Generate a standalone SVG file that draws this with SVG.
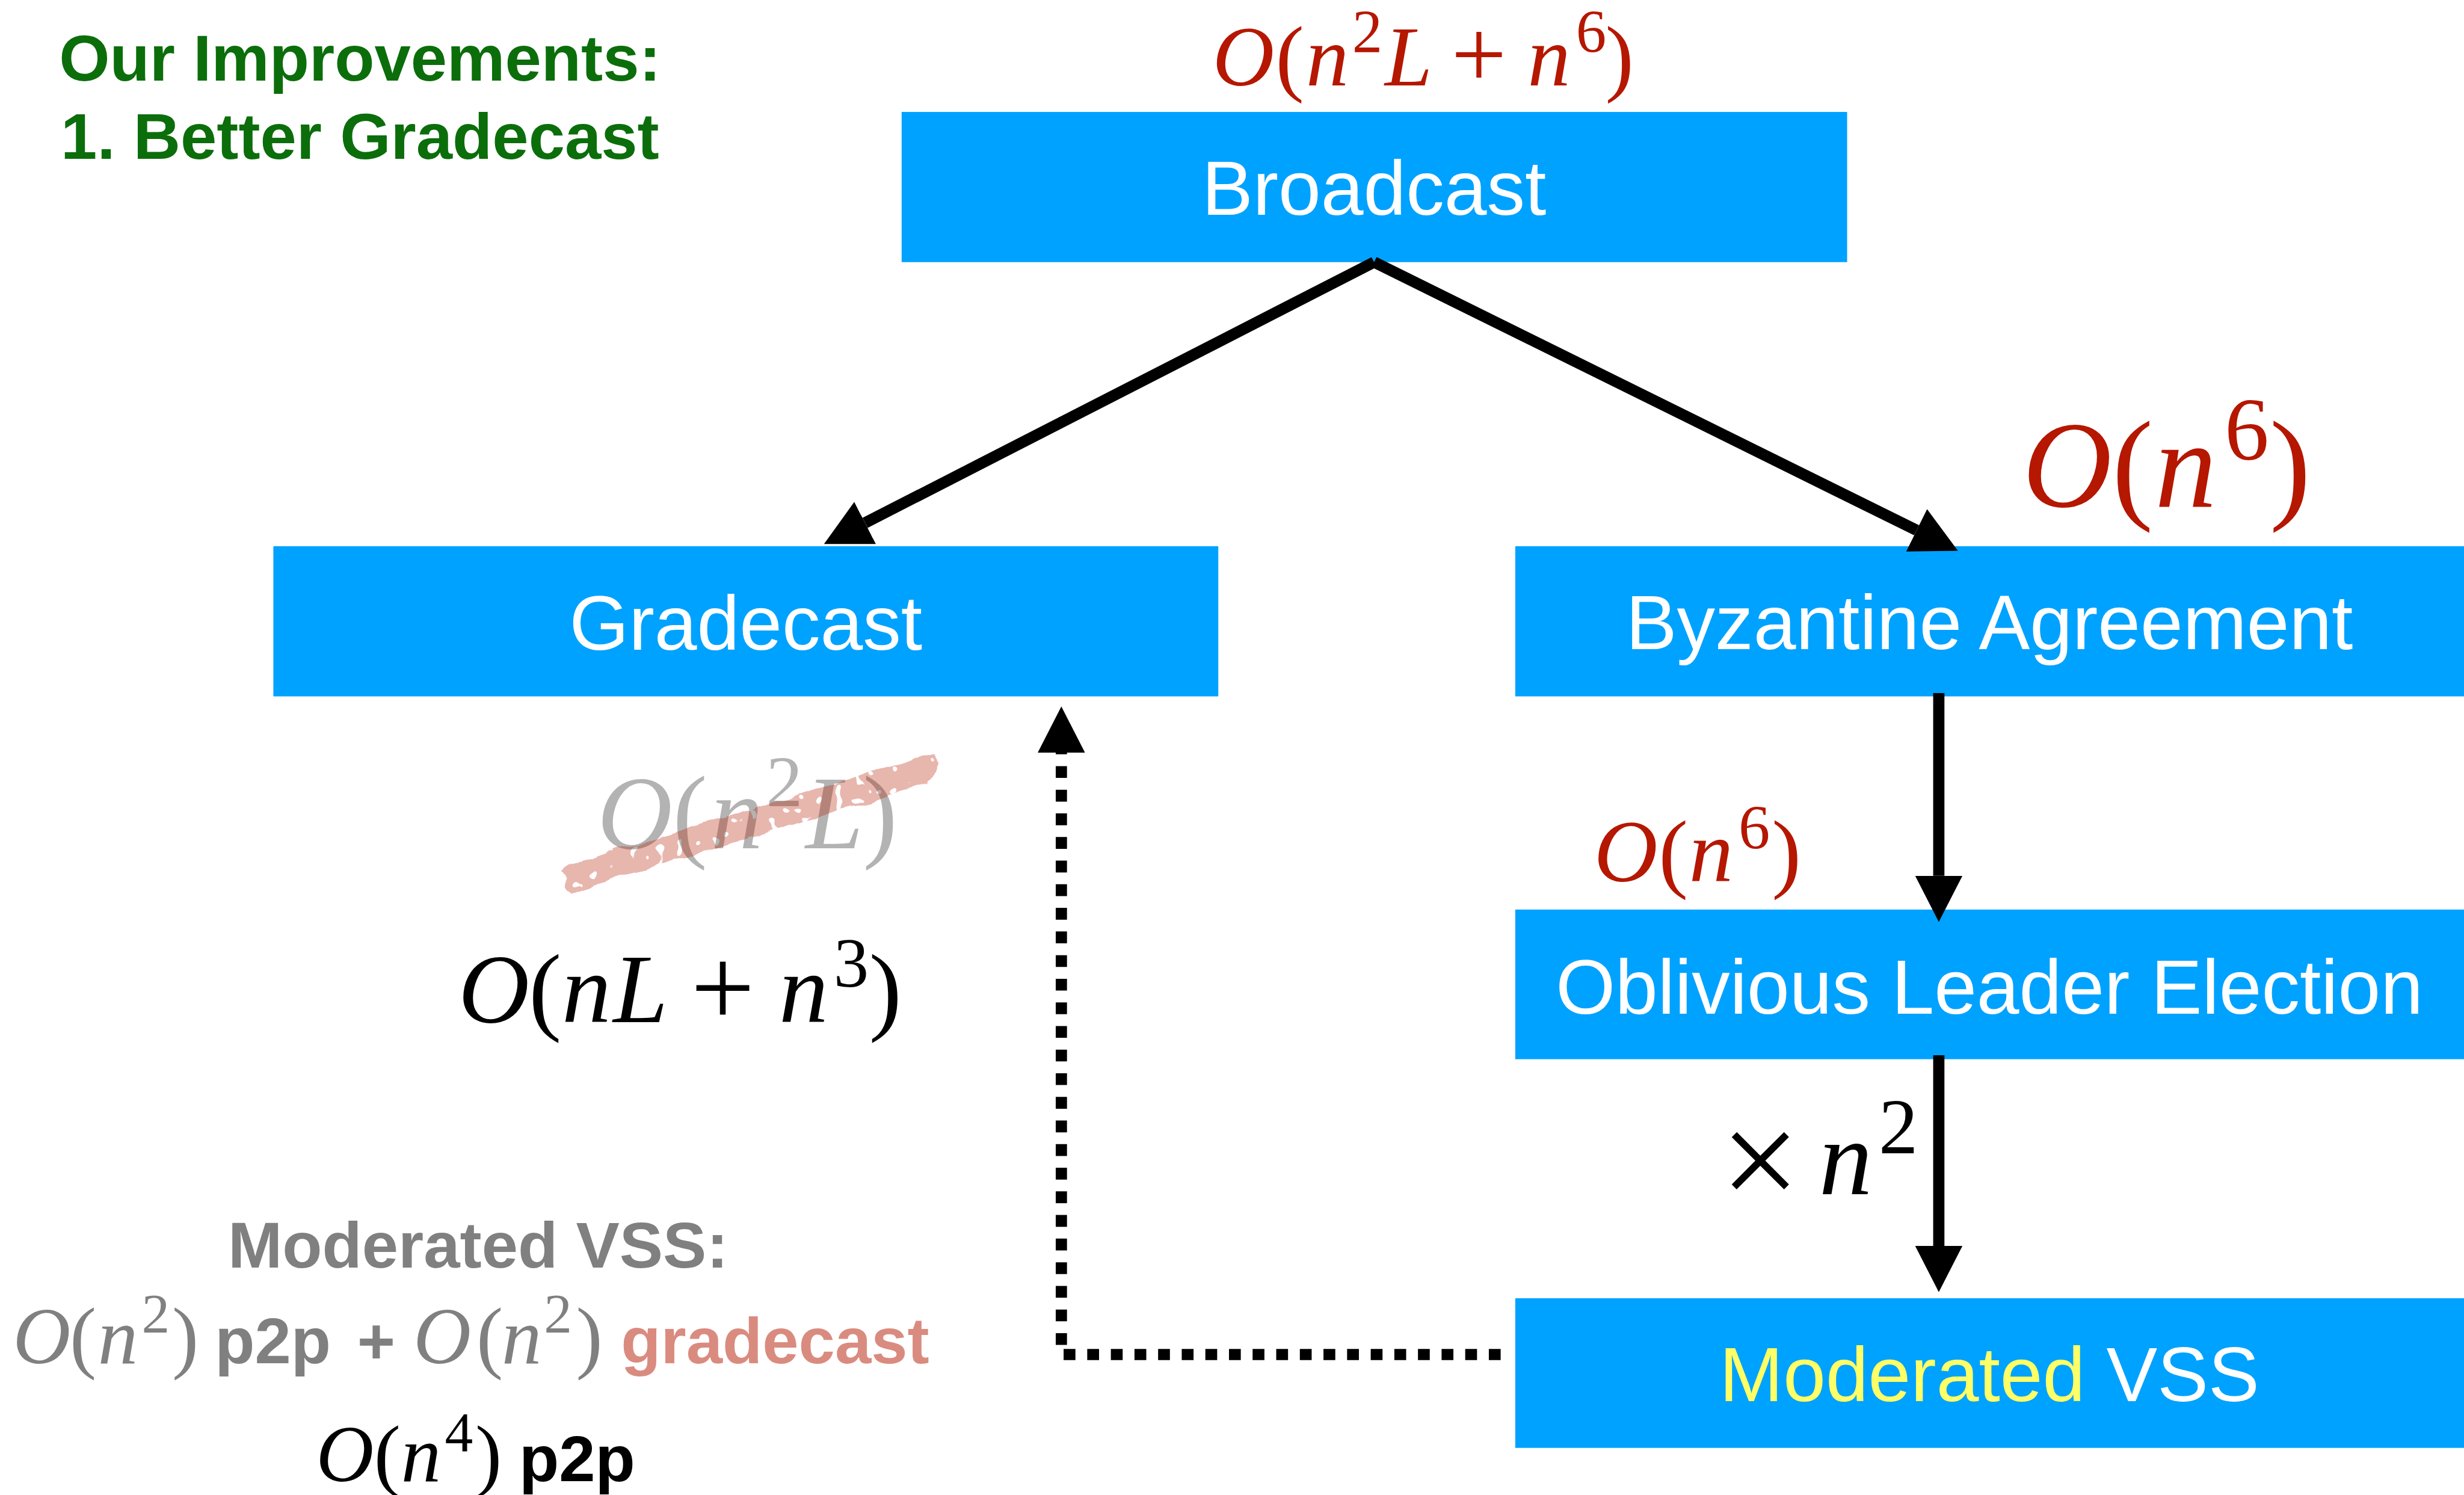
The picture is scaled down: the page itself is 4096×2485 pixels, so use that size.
<svg xmlns="http://www.w3.org/2000/svg" width="4096" height="2485" viewBox="0 0 4096 2485">
  <defs>
    <style>
      .box { fill: #00A2FF; }
      .lbl { font-family: "Liberation Sans", Arial, sans-serif; font-size: 136px; fill: #FFFFFF; text-anchor: middle; }
      .note { font-family: "Liberation Sans", Arial, sans-serif; font-weight: bold; font-size: 116px; }
      .m { font-family: "Liberation Serif", "Times New Roman", serif; }
      .i { font-style: italic; }
      .edge { stroke: #000000; stroke-width: 20; fill: none; }
      .dot { stroke-dasharray: 21 21; }
    </style>
    <marker id="head" markerUnits="userSpaceOnUse" markerWidth="84" markerHeight="86" viewBox="0 -43 84 86" refX="0" refY="0" orient="auto">
      <path d="M0,-42 L82,0 L0,42 Z" fill="#000000"/>
    </marker>
    <!-- rough brush edges for the strike-through -->
    <filter id="brush" x="-5%" y="-30%" width="110%" height="160%">
      <feTurbulence type="fractalNoise" baseFrequency="0.025" numOctaves="2" seed="4" result="noise"/>
      <feDisplacementMap in="SourceGraphic" in2="noise" scale="14" xChannelSelector="R" yChannelSelector="G" result="rough"/>
      <feTurbulence type="fractalNoise" baseFrequency="0.06" numOctaves="1" seed="9" result="n2"/>
      <feColorMatrix in="n2" type="matrix" values="0 0 0 0 0  0 0 0 0 0  0 0 0 0 0  0 0 0 -30 20.5" result="mask"/>
      <feComposite in="rough" in2="mask" operator="in"/>
    </filter>
  </defs>

  <g transform="scale(0.935)">
    <rect x="0" y="0" width="4380" height="2660" fill="#FFFFFF"/>

    <!-- heading -->
    <g id="heading" class="note" fill="#0B6E0B" text-anchor="middle">
      <text x="640" y="143">Our Improvements:</text>
      <text x="640" y="282">1. Better Gradecast</text>
    </g>

    <!-- nodes -->
    <g id="broadcast">
      <rect class="box" x="1603" y="199" width="1681" height="267"/>
      <text class="lbl" x="2443" y="382">Broadcast</text>
    </g>
    <g id="gradecast">
      <rect class="box" x="486" y="971" width="1680" height="267"/>
      <text class="lbl" x="1326" y="1155">Gradecast</text>
    </g>
    <g id="byzantine-agreement">
      <rect class="box" x="2694" y="971" width="1690" height="267"/>
      <text class="lbl" x="3537" y="1154">Byzantine Agreement</text>
    </g>
    <g id="oblivious-leader-election">
      <rect class="box" x="2694" y="1617" width="1690" height="266"/>
      <text class="lbl" x="3537" y="1802">Oblivious Leader Election</text>
    </g>
    <g id="moderated-vss">
      <rect class="box" x="2694" y="2308" width="1690" height="266"/>
      <text class="lbl" x="3537" y="2491"><tspan fill="#FFFF66">Moderated</tspan> VSS</text>
    </g>

    <!-- connectors -->
    <g id="connectors">
      <line class="edge" x1="2443" y1="466" x2="1538" y2="929.6" marker-end="url(#head)"/>
      <line class="edge" x1="2443" y1="466" x2="3407.5" y2="942.7" marker-end="url(#head)"/>
      <line class="edge" x1="3447" y1="1232" x2="3447" y2="1557" marker-end="url(#head)"/>
      <line class="edge" x1="3447" y1="1876" x2="3447" y2="2215" marker-end="url(#head)"/>
      <path class="edge dot" d="M2668,2408 H1887 V1338" marker-end="url(#head)"/>
    </g>

    <!-- cost of broadcast -->
    <text id="cost-broadcast" class="m" fill="#B51700" font-size="152"><tspan class="i" x="2156" y="152">O</tspan><tspan x="2268" y="152">(</tspan><tspan class="i" x="2322" y="152">n</tspan><tspan x="2404" y="93" font-size="108">2</tspan><tspan class="i" x="2462" y="152">L</tspan><tspan x="2580" y="155" font-size="175">+</tspan><tspan class="i" x="2716" y="152">n</tspan><tspan x="2802" y="93" font-size="108">6</tspan><tspan x="2854" y="152">)</tspan></text>

    <!-- cost of byzantine agreement -->
    <text id="cost-ba" class="m" fill="#B51700" font-size="220"><tspan class="i" x="3596" y="900">O</tspan><tspan x="3755" y="900">(</tspan><tspan class="i" x="3831" y="900">n</tspan><tspan x="3955" y="817" font-size="158">6</tspan><tspan x="4035" y="900">)</tspan></text>

    <!-- cost of leader election -->
    <text id="cost-ole" class="m" fill="#B51700" font-size="157"><tspan class="i" x="2834" y="1567">O</tspan><tspan x="2949" y="1567">(</tspan><tspan class="i" x="3003" y="1567">n</tspan><tspan x="3091" y="1508" font-size="112">6</tspan><tspan x="3150" y="1567">)</tspan></text>

    <!-- repetition factor -->
    <text id="factor" class="m" fill="#000000" font-size="190"><tspan x="3059" y="2147" font-size="250">×</tspan><tspan class="i" x="3234" y="2123">n</tspan><tspan x="3340" y="2050" font-size="140">2</tspan></text>

    <!-- old gradecast cost, struck out -->
    <g id="cost-gradecast-old">
      <text class="m" fill="#B3B3B3" font-size="185"><tspan class="i" x="1062" y="1508">O</tspan><tspan x="1196" y="1508">(</tspan><tspan class="i" x="1264" y="1508">n</tspan><tspan x="1362" y="1433" font-size="130">2</tspan><tspan class="i" x="1432" y="1508">L</tspan><tspan x="1534" y="1508">)</tspan></text>
      <path filter="url(#brush)" fill="#B51700" fill-opacity="0.32" d="M1010,1538 L1050,1527 L1100,1509 L1150,1497 L1200,1481 L1250,1463 L1300,1451 L1350,1432 L1400,1420 L1450,1401 L1500,1390 L1550,1371 L1600,1359 L1640,1343 L1660,1342 L1668,1355 L1660,1375 L1652,1392 L1600,1406 L1550,1425 L1500,1436 L1450,1455 L1400,1466 L1350,1485 L1300,1497 L1250,1516 L1200,1527 L1150,1546 L1100,1558 L1050,1577 L1015,1590 L1003,1578 L1008,1560 L1000,1548 Z"/>
    </g>

    <!-- new gradecast cost -->
    <text id="cost-gradecast-new" class="m" fill="#000000" font-size="175"><tspan class="i" x="815" y="1817">O</tspan><tspan x="940" y="1817">(</tspan><tspan class="i" x="999" y="1817">n</tspan><tspan class="i" x="1090" y="1817">L</tspan><tspan x="1228" y="1824" font-size="202">+</tspan><tspan class="i" x="1385" y="1817">n</tspan><tspan x="1482" y="1754" font-size="125">3</tspan><tspan x="1545" y="1817">)</tspan></text>

    <!-- moderated VSS cost breakdown -->
    <g id="vss-cost">
      <text class="note" fill="#808080" x="850" y="2253" text-anchor="middle">Moderated VSS:</text>
      <text fill="#808080" font-size="142"><tspan class="m i" x="23" y="2424">O</tspan><tspan class="m" x="124" y="2424">(</tspan><tspan class="m i" x="174" y="2424">n</tspan><tspan class="m" x="252" y="2369" font-size="100">2</tspan><tspan class="m" x="306" y="2424">)</tspan><tspan class="note" x="382" y="2424">p2p</tspan><tspan class="note" x="635" y="2424">+</tspan><tspan class="m i" x="735" y="2424">O</tspan><tspan class="m" x="847" y="2424">(</tspan><tspan class="m i" x="892" y="2424">n</tspan><tspan class="m" x="967" y="2369" font-size="100">2</tspan><tspan class="m" x="1024" y="2424">)</tspan><tspan class="note" x="1104" y="2424" fill="#DA8B7F" font-size="118">gradecast</tspan></text>
      <text fill="#000000" font-size="142"><tspan class="m i" x="562" y="2633">O</tspan><tspan class="m" x="665" y="2633">(</tspan><tspan class="m i" x="713" y="2633">n</tspan><tspan class="m" x="791" y="2580" font-size="100">4</tspan><tspan class="m" x="845" y="2633">)</tspan><tspan class="note" x="923" y="2633">p2p</tspan></text>
    </g>
  </g>
</svg>
